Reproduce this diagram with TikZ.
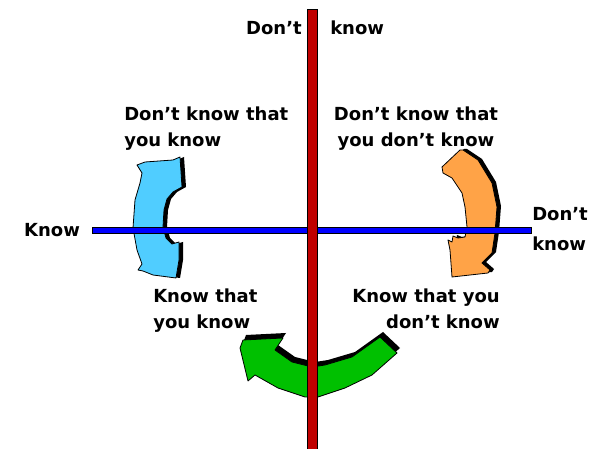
\documentclass[tikz,border=0pt]{standalone}
\usepackage{fontspec}
\setmainfont{DejaVu Sans}
\definecolor{cyanA}{RGB}{80,205,255}
\definecolor{orangeA}{RGB}{255,163,71}
\definecolor{greenA}{RGB}{0,192,0}
\definecolor{redA}{RGB}{192,0,0}
\definecolor{blueA}{RGB}{0,0,255}
\def\CyanShape{(137,165) -- (145,162) -- (173,160) -- (180,157) -- (182,187) -- (173,192) -- (167,199) -- (164,210) -- (163,227) -- (166,238) -- (172,244) -- (179,242) -- (179,260) -- (176,278) -- (153,275) -- (143,271) -- (138,270) -- (142,264) -- (137,250) -- (133,228) -- (135,200) -- (140,183) -- (142,173) -- cycle}
\def\OrangeShape{(460,150) -- (442,167) -- (443,173) -- (452,178) -- (462,193) -- (465,207) -- (467,227) -- (465,237) -- (458,238) -- (453,236) -- (452,242) -- (448,240) -- (450,250) -- (452,277) -- (488,273) -- (490,270) -- (482,263) -- (492,253) -- (495,233) -- (497,207) -- (492,183) -- (478,160) -- (463,150) -- cycle}
\def\GreenShape{(243,340) -- (283,338) -- (275,350) -- (292,362) -- (312,367) -- (325,365) -- (352,357) -- (380,337) -- (397,353) -- (372,375) -- (345,388) -- (318,397) -- (305,397) -- (278,388) -- (255,375) -- (248,381) -- (240,348) -- cycle}
\begin{document}
\begin{tikzpicture}[x=0.75pt,y=-0.75pt,
  lbl/.style={font=\fontsize{13.5}{19.5}\selectfont\bfseries, inner sep=0pt},
  arrowbody/.style={draw=black, line width=0.6pt, line join=round},
  axis/.style={draw=black, line width=0.6pt}]
\useasboundingbox (0,0) rectangle (597,449);
% shadows
\fill[black, shift={(4,0)}] \CyanShape;
\fill[black, shift={(4,-1)}] \OrangeShape;
\fill[black, shift={(3,-5)}] \GreenShape;
% arrow bodies
\path[arrowbody, fill=cyanA] \CyanShape;
\path[arrowbody, fill=orangeA] \OrangeShape;
\path[arrowbody, fill=greenA] \GreenShape;
% axes
\coordinate (hL) at (92,227);
\coordinate (hR) at (531,233);
\coordinate (vT) at (307,9);
\coordinate (vB) at (317,449);
\path[axis, fill=blueA] (hL) rectangle (hR);
\path[axis, fill=redA] (vT) rectangle (vB);
% labels
\node[lbl, anchor=base east] (dk1) at (302,35) {Don't};
\node[lbl, anchor=base west] (dk2) at (330,35) {know};
\node[lbl, anchor=base] (kL) at (52,237) {Know};
\node[lbl, anchor=north west, align=left] (dkR) at (532,207) {Don't\\[3pt]know};
\node[lbl, anchor=north west, align=left] (t1) at (124,107) {Don't know that\\you know};
\node[lbl, anchor=north, align=center] (t2) at (416,107) {Don't know that\\you don't know};
\node[lbl, anchor=north west, align=left] (t3) at (153,289) {Know that\\you know};
\node[lbl, anchor=north east, align=right] (t4) at (500,289) {Know that you\\don't know};
\end{tikzpicture}
\end{document}
